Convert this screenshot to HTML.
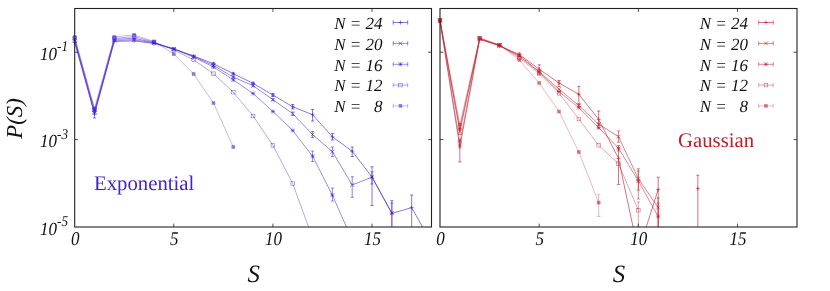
<!DOCTYPE html>
<html>
<head>
<meta charset="utf-8">
<title>P(S) distributions</title>
<style>
html, body { margin: 0; padding: 0; background: #ffffff; }
body { width: 830px; height: 291px; overflow: hidden; font-family: "Liberation Serif", serif; }
svg { display: block; will-change: transform; }
text { font-family: "Liberation Serif", serif; fill: #111111; text-rendering: geometricPrecision; }
.tk { font-size: 18px; font-style: italic; }
.sp { font-size: 14.2px; font-style: italic; }
.lg { font-size: 17px; font-style: italic; }
.ax { font-size: 24.8px; font-style: italic; }
.yl { font-size: 22.8px; font-style: italic; }
.nm { font-size: 20.75px; }
</style>
</head>
<body>
<svg width="830" height="291" viewBox="0 0 830 291">
<defs>
<clipPath id="cl"><rect x="71.7" y="8.5" width="359.8" height="218.5"/></clipPath>
<clipPath id="cr"><rect x="437.0" y="8.5" width="360.0" height="218.5"/></clipPath>
</defs>
<g clip-path="url(#cl)">
<polyline points="74.70,37.00 94.52,108.50 114.34,36.90 134.17,34.90 153.99,41.50 173.81,54.00 193.63,74.00 213.46,103.00 233.28,147.00" fill="none" stroke="#4422cc" stroke-width="0.55" stroke-opacity="0.58" stroke-linejoin="round"/>
<rect x="72.90" y="35.20" width="3.6" height="3.6" fill="#4422cc" fill-opacity="0.58" stroke="none"/>
<rect x="92.72" y="106.70" width="3.6" height="3.6" fill="#4422cc" fill-opacity="0.58" stroke="none"/>
<rect x="112.54" y="35.10" width="3.6" height="3.6" fill="#4422cc" fill-opacity="0.58" stroke="none"/>
<rect x="132.37" y="33.10" width="3.6" height="3.6" fill="#4422cc" fill-opacity="0.58" stroke="none"/>
<rect x="152.19" y="39.70" width="3.6" height="3.6" fill="#4422cc" fill-opacity="0.58" stroke="none"/>
<rect x="172.01" y="52.20" width="3.6" height="3.6" fill="#4422cc" fill-opacity="0.58" stroke="none"/>
<rect x="191.83" y="72.20" width="3.6" height="3.6" fill="#4422cc" fill-opacity="0.58" stroke="none"/>
<rect x="211.66" y="101.20" width="3.6" height="3.6" fill="#4422cc" fill-opacity="0.58" stroke="none"/>
<rect x="231.48" y="145.20" width="3.6" height="3.6" fill="#4422cc" fill-opacity="0.58" stroke="none"/>
<polyline points="74.70,38.30 94.52,110.00 114.34,38.30 134.17,36.60 153.99,42.00 173.81,50.00 193.63,59.90 213.46,73.70 233.28,92.20 253.10,116.00 272.92,145.30 292.74,183.60 312.57,238.00" fill="none" stroke="#4422cc" stroke-width="0.55" stroke-opacity="0.72" stroke-linejoin="round"/>
<rect x="72.90" y="36.50" width="3.6" height="3.6" stroke="#4422cc" stroke-width="0.55" stroke-opacity="0.72" fill="none"/>
<rect x="92.72" y="108.20" width="3.6" height="3.6" stroke="#4422cc" stroke-width="0.55" stroke-opacity="0.72" fill="none"/>
<rect x="112.54" y="36.50" width="3.6" height="3.6" stroke="#4422cc" stroke-width="0.55" stroke-opacity="0.72" fill="none"/>
<rect x="132.37" y="34.80" width="3.6" height="3.6" stroke="#4422cc" stroke-width="0.55" stroke-opacity="0.72" fill="none"/>
<rect x="152.19" y="40.20" width="3.6" height="3.6" stroke="#4422cc" stroke-width="0.55" stroke-opacity="0.72" fill="none"/>
<rect x="172.01" y="48.20" width="3.6" height="3.6" stroke="#4422cc" stroke-width="0.55" stroke-opacity="0.72" fill="none"/>
<rect x="191.83" y="58.10" width="3.6" height="3.6" stroke="#4422cc" stroke-width="0.55" stroke-opacity="0.72" fill="none"/>
<rect x="211.66" y="71.90" width="3.6" height="3.6" stroke="#4422cc" stroke-width="0.55" stroke-opacity="0.72" fill="none"/>
<rect x="231.48" y="90.40" width="3.6" height="3.6" stroke="#4422cc" stroke-width="0.55" stroke-opacity="0.72" fill="none"/>
<rect x="251.30" y="114.20" width="3.6" height="3.6" stroke="#4422cc" stroke-width="0.55" stroke-opacity="0.72" fill="none"/>
<rect x="271.12" y="143.50" width="3.6" height="3.6" stroke="#4422cc" stroke-width="0.55" stroke-opacity="0.72" fill="none"/>
<rect x="290.94" y="181.80" width="3.6" height="3.6" stroke="#4422cc" stroke-width="0.55" stroke-opacity="0.72" fill="none"/>
<polyline points="74.70,39.60 94.52,111.50 114.34,39.30 134.17,38.30 153.99,42.50 173.81,49.00 193.63,57.00 213.46,67.00 233.28,79.90 253.10,93.50 272.92,111.50 292.74,130.50 312.57,156.20 332.39,195.20 352.21,240.00" fill="none" stroke="#4422cc" stroke-width="0.6" stroke-opacity="0.87" stroke-linejoin="round"/>
<path d="M72.70 37.60L76.70 41.60M72.70 41.60L76.70 37.60M72.70 39.60H76.70M74.70 37.60V41.60" stroke="#4422cc" stroke-width="0.6" stroke-opacity="0.87" fill="none"/>
<path d="M92.52 109.50L96.52 113.50M92.52 113.50L96.52 109.50M92.52 111.50H96.52M94.52 109.50V113.50" stroke="#4422cc" stroke-width="0.6" stroke-opacity="0.87" fill="none"/>
<path d="M112.34 37.30L116.34 41.30M112.34 41.30L116.34 37.30M112.34 39.30H116.34M114.34 37.30V41.30" stroke="#4422cc" stroke-width="0.6" stroke-opacity="0.87" fill="none"/>
<path d="M132.17 36.30L136.17 40.30M132.17 40.30L136.17 36.30M132.17 38.30H136.17M134.17 36.30V40.30" stroke="#4422cc" stroke-width="0.6" stroke-opacity="0.87" fill="none"/>
<path d="M151.99 40.50L155.99 44.50M151.99 44.50L155.99 40.50M151.99 42.50H155.99M153.99 40.50V44.50" stroke="#4422cc" stroke-width="0.6" stroke-opacity="0.87" fill="none"/>
<path d="M171.81 47.00L175.81 51.00M171.81 51.00L175.81 47.00M171.81 49.00H175.81M173.81 47.00V51.00" stroke="#4422cc" stroke-width="0.6" stroke-opacity="0.87" fill="none"/>
<path d="M191.63 55.00L195.63 59.00M191.63 59.00L195.63 55.00M191.63 57.00H195.63M193.63 55.00V59.00" stroke="#4422cc" stroke-width="0.6" stroke-opacity="0.87" fill="none"/>
<path d="M211.46 65.00L215.46 69.00M211.46 69.00L215.46 65.00M211.46 67.00H215.46M213.46 65.00V69.00" stroke="#4422cc" stroke-width="0.6" stroke-opacity="0.87" fill="none"/>
<path d="M231.28 77.90L235.28 81.90M231.28 81.90L235.28 77.90M231.28 79.90H235.28M233.28 77.90V81.90" stroke="#4422cc" stroke-width="0.6" stroke-opacity="0.87" fill="none"/>
<path d="M251.10 91.50L255.10 95.50M251.10 95.50L255.10 91.50M251.10 93.50H255.10M253.10 91.50V95.50" stroke="#4422cc" stroke-width="0.6" stroke-opacity="0.87" fill="none"/>
<path d="M270.92 109.50L274.92 113.50M270.92 113.50L274.92 109.50M270.92 111.50H274.92M272.92 109.50V113.50" stroke="#4422cc" stroke-width="0.6" stroke-opacity="0.87" fill="none"/>
<path d="M290.74 128.50L294.74 132.50M290.74 132.50L294.74 128.50M290.74 130.50H294.74M292.74 128.50V132.50" stroke="#4422cc" stroke-width="0.6" stroke-opacity="0.87" fill="none"/>
<path d="M312.57 151.00V161.50M310.97 151.00H314.17M310.97 161.50H314.17" stroke="#4422cc" stroke-width="0.6" stroke-opacity="0.87" fill="none"/>
<path d="M310.57 154.20L314.57 158.20M310.57 158.20L314.57 154.20M310.57 156.20H314.57M312.57 154.20V158.20" stroke="#4422cc" stroke-width="0.6" stroke-opacity="0.87" fill="none"/>
<path d="M332.39 188.00V201.00M330.79 188.00H333.99M330.79 201.00H333.99" stroke="#4422cc" stroke-width="0.6" stroke-opacity="0.87" fill="none"/>
<path d="M330.39 193.20L334.39 197.20M330.39 197.20L334.39 193.20M330.39 195.20H334.39M332.39 193.20V197.20" stroke="#4422cc" stroke-width="0.6" stroke-opacity="0.87" fill="none"/>
<polyline points="74.70,41.00 94.52,113.00 114.34,40.40 134.17,39.70 153.99,43.00 173.81,48.90 193.63,56.50 213.46,65.40 233.28,77.10 253.10,85.70 272.92,99.70 292.74,113.70 312.57,134.50 332.39,151.70 352.21,185.00 372.03,177.10 391.86,213.20" fill="none" stroke="#4422cc" stroke-width="0.6" stroke-opacity="0.92" stroke-linejoin="round"/>
<path d="M72.70 39.00L76.70 43.00M72.70 43.00L76.70 39.00" stroke="#4422cc" stroke-width="0.6" stroke-opacity="0.92" fill="none"/>
<path d="M92.52 111.00L96.52 115.00M92.52 115.00L96.52 111.00" stroke="#4422cc" stroke-width="0.6" stroke-opacity="0.92" fill="none"/>
<path d="M112.34 38.40L116.34 42.40M112.34 42.40L116.34 38.40" stroke="#4422cc" stroke-width="0.6" stroke-opacity="0.92" fill="none"/>
<path d="M132.17 37.70L136.17 41.70M132.17 41.70L136.17 37.70" stroke="#4422cc" stroke-width="0.6" stroke-opacity="0.92" fill="none"/>
<path d="M151.99 41.00L155.99 45.00M151.99 45.00L155.99 41.00" stroke="#4422cc" stroke-width="0.6" stroke-opacity="0.92" fill="none"/>
<path d="M171.81 46.90L175.81 50.90M171.81 50.90L175.81 46.90" stroke="#4422cc" stroke-width="0.6" stroke-opacity="0.92" fill="none"/>
<path d="M191.63 54.50L195.63 58.50M191.63 58.50L195.63 54.50" stroke="#4422cc" stroke-width="0.6" stroke-opacity="0.92" fill="none"/>
<path d="M213.46 64.40V66.40M211.86 64.40H215.06M211.86 66.40H215.06" stroke="#4422cc" stroke-width="0.6" stroke-opacity="0.92" fill="none"/>
<path d="M211.46 63.40L215.46 67.40M211.46 67.40L215.46 63.40" stroke="#4422cc" stroke-width="0.6" stroke-opacity="0.92" fill="none"/>
<path d="M233.28 76.10V78.10M231.68 76.10H234.88M231.68 78.10H234.88" stroke="#4422cc" stroke-width="0.6" stroke-opacity="0.92" fill="none"/>
<path d="M231.28 75.10L235.28 79.10M231.28 79.10L235.28 75.10" stroke="#4422cc" stroke-width="0.6" stroke-opacity="0.92" fill="none"/>
<path d="M253.10 84.70V86.70M251.50 84.70H254.70M251.50 86.70H254.70" stroke="#4422cc" stroke-width="0.6" stroke-opacity="0.92" fill="none"/>
<path d="M251.10 83.70L255.10 87.70M251.10 87.70L255.10 83.70" stroke="#4422cc" stroke-width="0.6" stroke-opacity="0.92" fill="none"/>
<path d="M272.92 98.70V100.70M271.32 98.70H274.52M271.32 100.70H274.52" stroke="#4422cc" stroke-width="0.6" stroke-opacity="0.92" fill="none"/>
<path d="M270.92 97.70L274.92 101.70M270.92 101.70L274.92 97.70" stroke="#4422cc" stroke-width="0.6" stroke-opacity="0.92" fill="none"/>
<path d="M292.74 112.00V115.50M291.14 112.00H294.34M291.14 115.50H294.34" stroke="#4422cc" stroke-width="0.6" stroke-opacity="0.92" fill="none"/>
<path d="M290.74 111.70L294.74 115.70M290.74 115.70L294.74 111.70" stroke="#4422cc" stroke-width="0.6" stroke-opacity="0.92" fill="none"/>
<path d="M312.57 131.50V137.50M310.97 131.50H314.17M310.97 137.50H314.17" stroke="#4422cc" stroke-width="0.6" stroke-opacity="0.92" fill="none"/>
<path d="M310.57 132.50L314.57 136.50M310.57 136.50L314.57 132.50" stroke="#4422cc" stroke-width="0.6" stroke-opacity="0.92" fill="none"/>
<path d="M332.39 147.00V156.50M330.79 147.00H333.99M330.79 156.50H333.99" stroke="#4422cc" stroke-width="0.6" stroke-opacity="0.92" fill="none"/>
<path d="M330.39 149.70L334.39 153.70M330.39 153.70L334.39 149.70" stroke="#4422cc" stroke-width="0.6" stroke-opacity="0.92" fill="none"/>
<path d="M352.21 176.70V197.30M350.61 176.70H353.81M350.61 197.30H353.81" stroke="#4422cc" stroke-width="0.6" stroke-opacity="0.92" fill="none"/>
<path d="M350.21 183.00L354.21 187.00M350.21 187.00L354.21 183.00" stroke="#4422cc" stroke-width="0.6" stroke-opacity="0.92" fill="none"/>
<path d="M372.03 171.80V184.00M370.43 171.80H373.63M370.43 184.00H373.63" stroke="#4422cc" stroke-width="0.6" stroke-opacity="0.92" fill="none"/>
<path d="M370.03 175.10L374.03 179.10M370.03 179.10L374.03 175.10" stroke="#4422cc" stroke-width="0.6" stroke-opacity="0.92" fill="none"/>
<path d="M391.86 203.00V240.00M390.26 203.00H393.46M390.26 240.00H393.46" stroke="#4422cc" stroke-width="0.6" stroke-opacity="0.92" fill="none"/>
<path d="M389.86 211.20L393.86 215.20M389.86 215.20L393.86 211.20" stroke="#4422cc" stroke-width="0.6" stroke-opacity="0.92" fill="none"/>
<polyline points="74.70,42.30 94.52,114.00 114.34,41.40 134.17,40.90 153.99,43.50 173.81,48.80 193.63,56.00 213.46,63.70 233.28,73.70 253.10,83.30 272.92,95.00 292.74,106.80 312.57,114.70 332.39,136.80 352.21,151.20 372.03,177.10 391.86,213.40 411.68,207.60 431.50,243.00" fill="none" stroke="#4422cc" stroke-width="0.64" stroke-opacity="0.97" stroke-linejoin="round"/>
<path d="M72.70 42.30H76.70M74.70 40.30V44.30" stroke="#4422cc" stroke-width="0.64" stroke-opacity="0.97" fill="none"/>
<path d="M94.52 110.50V118.00M92.92 110.50H96.12M92.92 118.00H96.12" stroke="#4422cc" stroke-width="0.64" stroke-opacity="0.97" fill="none"/>
<path d="M92.52 114.00H96.52M94.52 112.00V116.00" stroke="#4422cc" stroke-width="0.64" stroke-opacity="0.97" fill="none"/>
<path d="M112.34 41.40H116.34M114.34 39.40V43.40" stroke="#4422cc" stroke-width="0.64" stroke-opacity="0.97" fill="none"/>
<path d="M132.17 40.90H136.17M134.17 38.90V42.90" stroke="#4422cc" stroke-width="0.64" stroke-opacity="0.97" fill="none"/>
<path d="M151.99 43.50H155.99M153.99 41.50V45.50" stroke="#4422cc" stroke-width="0.64" stroke-opacity="0.97" fill="none"/>
<path d="M171.81 48.80H175.81M173.81 46.80V50.80" stroke="#4422cc" stroke-width="0.64" stroke-opacity="0.97" fill="none"/>
<path d="M191.63 56.00H195.63M193.63 54.00V58.00" stroke="#4422cc" stroke-width="0.64" stroke-opacity="0.97" fill="none"/>
<path d="M213.46 62.70V64.70M211.86 62.70H215.06M211.86 64.70H215.06" stroke="#4422cc" stroke-width="0.64" stroke-opacity="0.97" fill="none"/>
<path d="M211.46 63.70H215.46M213.46 61.70V65.70" stroke="#4422cc" stroke-width="0.64" stroke-opacity="0.97" fill="none"/>
<path d="M233.28 72.70V74.70M231.68 72.70H234.88M231.68 74.70H234.88" stroke="#4422cc" stroke-width="0.64" stroke-opacity="0.97" fill="none"/>
<path d="M231.28 73.70H235.28M233.28 71.70V75.70" stroke="#4422cc" stroke-width="0.64" stroke-opacity="0.97" fill="none"/>
<path d="M253.10 82.30V84.30M251.50 82.30H254.70M251.50 84.30H254.70" stroke="#4422cc" stroke-width="0.64" stroke-opacity="0.97" fill="none"/>
<path d="M251.10 83.30H255.10M253.10 81.30V85.30" stroke="#4422cc" stroke-width="0.64" stroke-opacity="0.97" fill="none"/>
<path d="M272.92 93.50V96.50M271.32 93.50H274.52M271.32 96.50H274.52" stroke="#4422cc" stroke-width="0.64" stroke-opacity="0.97" fill="none"/>
<path d="M270.92 95.00H274.92M272.92 93.00V97.00" stroke="#4422cc" stroke-width="0.64" stroke-opacity="0.97" fill="none"/>
<path d="M292.74 104.50V109.00M291.14 104.50H294.34M291.14 109.00H294.34" stroke="#4422cc" stroke-width="0.64" stroke-opacity="0.97" fill="none"/>
<path d="M290.74 106.80H294.74M292.74 104.80V108.80" stroke="#4422cc" stroke-width="0.64" stroke-opacity="0.97" fill="none"/>
<path d="M312.57 109.50V121.00M310.97 109.50H314.17M310.97 121.00H314.17" stroke="#4422cc" stroke-width="0.64" stroke-opacity="0.97" fill="none"/>
<path d="M310.57 114.70H314.57M312.57 112.70V116.70" stroke="#4422cc" stroke-width="0.64" stroke-opacity="0.97" fill="none"/>
<path d="M332.39 133.50V140.00M330.79 133.50H333.99M330.79 140.00H333.99" stroke="#4422cc" stroke-width="0.64" stroke-opacity="0.97" fill="none"/>
<path d="M330.39 136.80H334.39M332.39 134.80V138.80" stroke="#4422cc" stroke-width="0.64" stroke-opacity="0.97" fill="none"/>
<path d="M352.21 147.00V156.50M350.61 147.00H353.81M350.61 156.50H353.81" stroke="#4422cc" stroke-width="0.64" stroke-opacity="0.97" fill="none"/>
<path d="M350.21 151.20H354.21M352.21 149.20V153.20" stroke="#4422cc" stroke-width="0.64" stroke-opacity="0.97" fill="none"/>
<path d="M372.03 166.80V205.50M370.43 166.80H373.63M370.43 205.50H373.63" stroke="#4422cc" stroke-width="0.64" stroke-opacity="0.97" fill="none"/>
<path d="M370.03 177.10H374.03M372.03 175.10V179.10" stroke="#4422cc" stroke-width="0.64" stroke-opacity="0.97" fill="none"/>
<path d="M391.86 200.70V240.00M390.26 200.70H393.46M390.26 240.00H393.46" stroke="#4422cc" stroke-width="0.64" stroke-opacity="0.97" fill="none"/>
<path d="M389.86 213.40H393.86M391.86 211.40V215.40" stroke="#4422cc" stroke-width="0.64" stroke-opacity="0.97" fill="none"/>
<path d="M411.68 195.00V240.00M410.08 195.00H413.28M410.08 240.00H413.28" stroke="#4422cc" stroke-width="0.64" stroke-opacity="0.97" fill="none"/>
<path d="M409.68 207.60H413.68M411.68 205.60V209.60" stroke="#4422cc" stroke-width="0.64" stroke-opacity="0.97" fill="none"/>
<path d="M431.50 242.00V244.00M429.90 242.00H433.10M429.90 244.00H433.10" stroke="#4422cc" stroke-width="0.64" stroke-opacity="0.97" fill="none"/>
</g>
<g clip-path="url(#cr)">
<polyline points="440.00,20.00 459.83,124.50 479.67,37.70 499.50,45.00 519.33,60.00 539.17,83.00 559.00,111.50 578.83,152.00 598.67,202.60" fill="none" stroke="#be1e2d" stroke-width="0.55" stroke-opacity="0.58" stroke-linejoin="round"/>
<rect x="438.20" y="18.20" width="3.6" height="3.6" fill="#be1e2d" fill-opacity="0.58" stroke="none"/>
<rect x="458.03" y="122.70" width="3.6" height="3.6" fill="#be1e2d" fill-opacity="0.58" stroke="none"/>
<rect x="477.87" y="35.90" width="3.6" height="3.6" fill="#be1e2d" fill-opacity="0.58" stroke="none"/>
<rect x="497.70" y="43.20" width="3.6" height="3.6" fill="#be1e2d" fill-opacity="0.58" stroke="none"/>
<rect x="517.53" y="58.20" width="3.6" height="3.6" fill="#be1e2d" fill-opacity="0.58" stroke="none"/>
<rect x="537.37" y="81.20" width="3.6" height="3.6" fill="#be1e2d" fill-opacity="0.58" stroke="none"/>
<rect x="557.20" y="109.70" width="3.6" height="3.6" fill="#be1e2d" fill-opacity="0.58" stroke="none"/>
<rect x="577.03" y="150.20" width="3.6" height="3.6" fill="#be1e2d" fill-opacity="0.58" stroke="none"/>
<path d="M598.67 194.70V216.40M597.07 194.70H600.27M597.07 216.40H600.27" stroke="#be1e2d" stroke-width="0.55" stroke-opacity="0.58" fill="none"/>
<rect x="596.87" y="200.80" width="3.6" height="3.6" fill="#be1e2d" fill-opacity="0.58" stroke="none"/>
<polyline points="440.00,20.30 459.83,142.70 479.67,38.20 499.50,45.20 519.33,58.00 539.17,73.50 559.00,93.30 578.83,119.00 598.67,145.30 618.50,163.70 638.33,210.20" fill="none" stroke="#be1e2d" stroke-width="0.55" stroke-opacity="0.72" stroke-linejoin="round"/>
<rect x="438.20" y="18.50" width="3.6" height="3.6" stroke="#be1e2d" stroke-width="0.55" stroke-opacity="0.72" fill="none"/>
<path d="M459.83 140.50V145.50M458.23 140.50H461.43M458.23 145.50H461.43" stroke="#be1e2d" stroke-width="0.55" stroke-opacity="0.72" fill="none"/>
<rect x="458.03" y="140.90" width="3.6" height="3.6" stroke="#be1e2d" stroke-width="0.55" stroke-opacity="0.72" fill="none"/>
<rect x="477.87" y="36.40" width="3.6" height="3.6" stroke="#be1e2d" stroke-width="0.55" stroke-opacity="0.72" fill="none"/>
<rect x="497.70" y="43.40" width="3.6" height="3.6" stroke="#be1e2d" stroke-width="0.55" stroke-opacity="0.72" fill="none"/>
<rect x="517.53" y="56.20" width="3.6" height="3.6" stroke="#be1e2d" stroke-width="0.55" stroke-opacity="0.72" fill="none"/>
<rect x="537.37" y="71.70" width="3.6" height="3.6" stroke="#be1e2d" stroke-width="0.55" stroke-opacity="0.72" fill="none"/>
<rect x="557.20" y="91.50" width="3.6" height="3.6" stroke="#be1e2d" stroke-width="0.55" stroke-opacity="0.72" fill="none"/>
<rect x="577.03" y="117.20" width="3.6" height="3.6" stroke="#be1e2d" stroke-width="0.55" stroke-opacity="0.72" fill="none"/>
<rect x="596.87" y="143.50" width="3.6" height="3.6" stroke="#be1e2d" stroke-width="0.55" stroke-opacity="0.72" fill="none"/>
<rect x="616.70" y="161.90" width="3.6" height="3.6" stroke="#be1e2d" stroke-width="0.55" stroke-opacity="0.72" fill="none"/>
<path d="M638.33 202.00V240.00M636.73 202.00H639.93M636.73 240.00H639.93" stroke="#be1e2d" stroke-width="0.55" stroke-opacity="0.72" fill="none"/>
<rect x="636.53" y="208.40" width="3.6" height="3.6" stroke="#be1e2d" stroke-width="0.55" stroke-opacity="0.72" fill="none"/>
<polyline points="440.00,20.60 459.83,128.50 479.67,38.60 499.50,45.40 519.33,56.50 539.17,72.00 559.00,91.60 578.83,107.70 598.67,127.70 618.50,148.20 638.33,181.00 658.17,216.40" fill="none" stroke="#be1e2d" stroke-width="0.6" stroke-opacity="0.87" stroke-linejoin="round"/>
<path d="M438.00 18.60L442.00 22.60M438.00 22.60L442.00 18.60M438.00 20.60H442.00M440.00 18.60V22.60" stroke="#be1e2d" stroke-width="0.6" stroke-opacity="0.87" fill="none"/>
<path d="M457.83 126.50L461.83 130.50M457.83 130.50L461.83 126.50M457.83 128.50H461.83M459.83 126.50V130.50" stroke="#be1e2d" stroke-width="0.6" stroke-opacity="0.87" fill="none"/>
<path d="M477.67 36.60L481.67 40.60M477.67 40.60L481.67 36.60M477.67 38.60H481.67M479.67 36.60V40.60" stroke="#be1e2d" stroke-width="0.6" stroke-opacity="0.87" fill="none"/>
<path d="M497.50 43.40L501.50 47.40M497.50 47.40L501.50 43.40M497.50 45.40H501.50M499.50 43.40V47.40" stroke="#be1e2d" stroke-width="0.6" stroke-opacity="0.87" fill="none"/>
<path d="M517.33 54.50L521.33 58.50M517.33 58.50L521.33 54.50M517.33 56.50H521.33M519.33 54.50V58.50" stroke="#be1e2d" stroke-width="0.6" stroke-opacity="0.87" fill="none"/>
<path d="M537.17 70.00L541.17 74.00M537.17 74.00L541.17 70.00M537.17 72.00H541.17M539.17 70.00V74.00" stroke="#be1e2d" stroke-width="0.6" stroke-opacity="0.87" fill="none"/>
<path d="M557.00 89.60L561.00 93.60M557.00 93.60L561.00 89.60M557.00 91.60H561.00M559.00 89.60V93.60" stroke="#be1e2d" stroke-width="0.6" stroke-opacity="0.87" fill="none"/>
<path d="M576.83 105.70L580.83 109.70M576.83 109.70L580.83 105.70M576.83 107.70H580.83M578.83 105.70V109.70" stroke="#be1e2d" stroke-width="0.6" stroke-opacity="0.87" fill="none"/>
<path d="M596.67 125.70L600.67 129.70M596.67 129.70L600.67 125.70M596.67 127.70H600.67M598.67 125.70V129.70" stroke="#be1e2d" stroke-width="0.6" stroke-opacity="0.87" fill="none"/>
<path d="M618.50 145.50V151.00M616.90 145.50H620.10M616.90 151.00H620.10" stroke="#be1e2d" stroke-width="0.6" stroke-opacity="0.87" fill="none"/>
<path d="M616.50 146.20L620.50 150.20M616.50 150.20L620.50 146.20M616.50 148.20H620.50M618.50 146.20V150.20" stroke="#be1e2d" stroke-width="0.6" stroke-opacity="0.87" fill="none"/>
<path d="M638.33 171.00V199.00M636.73 171.00H639.93M636.73 199.00H639.93" stroke="#be1e2d" stroke-width="0.6" stroke-opacity="0.87" fill="none"/>
<path d="M636.33 179.00L640.33 183.00M636.33 183.00L640.33 179.00M636.33 181.00H640.33M638.33 179.00V183.00" stroke="#be1e2d" stroke-width="0.6" stroke-opacity="0.87" fill="none"/>
<path d="M658.17 203.00V240.00M656.57 203.00H659.77M656.57 240.00H659.77" stroke="#be1e2d" stroke-width="0.6" stroke-opacity="0.87" fill="none"/>
<path d="M656.17 214.40L660.17 218.40M656.17 218.40L660.17 214.40M656.17 216.40H660.17M658.17 214.40V218.40" stroke="#be1e2d" stroke-width="0.6" stroke-opacity="0.87" fill="none"/>
<polyline points="440.00,20.80 459.83,131.50 479.67,39.00 499.50,45.60 519.33,55.50 539.17,71.50 559.00,89.20 578.83,105.50 598.67,124.20 618.50,136.70 638.33,178.70 658.17,207.50" fill="none" stroke="#be1e2d" stroke-width="0.6" stroke-opacity="0.92" stroke-linejoin="round"/>
<path d="M438.00 18.80L442.00 22.80M438.00 22.80L442.00 18.80" stroke="#be1e2d" stroke-width="0.6" stroke-opacity="0.92" fill="none"/>
<path d="M459.83 129.00V134.50M458.23 129.00H461.43M458.23 134.50H461.43" stroke="#be1e2d" stroke-width="0.6" stroke-opacity="0.92" fill="none"/>
<path d="M457.83 129.50L461.83 133.50M457.83 133.50L461.83 129.50" stroke="#be1e2d" stroke-width="0.6" stroke-opacity="0.92" fill="none"/>
<path d="M477.67 37.00L481.67 41.00M477.67 41.00L481.67 37.00" stroke="#be1e2d" stroke-width="0.6" stroke-opacity="0.92" fill="none"/>
<path d="M497.50 43.60L501.50 47.60M497.50 47.60L501.50 43.60" stroke="#be1e2d" stroke-width="0.6" stroke-opacity="0.92" fill="none"/>
<path d="M517.33 53.50L521.33 57.50M517.33 57.50L521.33 53.50" stroke="#be1e2d" stroke-width="0.6" stroke-opacity="0.92" fill="none"/>
<path d="M537.17 69.50L541.17 73.50M537.17 73.50L541.17 69.50" stroke="#be1e2d" stroke-width="0.6" stroke-opacity="0.92" fill="none"/>
<path d="M557.00 87.20L561.00 91.20M557.00 91.20L561.00 87.20" stroke="#be1e2d" stroke-width="0.6" stroke-opacity="0.92" fill="none"/>
<path d="M578.83 104.50V106.50M577.23 104.50H580.43M577.23 106.50H580.43" stroke="#be1e2d" stroke-width="0.6" stroke-opacity="0.92" fill="none"/>
<path d="M576.83 103.50L580.83 107.50M576.83 107.50L580.83 103.50" stroke="#be1e2d" stroke-width="0.6" stroke-opacity="0.92" fill="none"/>
<path d="M598.67 123.20V125.20M597.07 123.20H600.27M597.07 125.20H600.27" stroke="#be1e2d" stroke-width="0.6" stroke-opacity="0.92" fill="none"/>
<path d="M596.67 122.20L600.67 126.20M596.67 126.20L600.67 122.20" stroke="#be1e2d" stroke-width="0.6" stroke-opacity="0.92" fill="none"/>
<path d="M618.50 131.00V142.20M616.90 131.00H620.10M616.90 142.20H620.10" stroke="#be1e2d" stroke-width="0.6" stroke-opacity="0.92" fill="none"/>
<path d="M616.50 134.70L620.50 138.70M616.50 138.70L620.50 134.70" stroke="#be1e2d" stroke-width="0.6" stroke-opacity="0.92" fill="none"/>
<path d="M638.33 168.80V190.20M636.73 168.80H639.93M636.73 190.20H639.93" stroke="#be1e2d" stroke-width="0.6" stroke-opacity="0.92" fill="none"/>
<path d="M636.33 176.70L640.33 180.70M636.33 180.70L640.33 176.70" stroke="#be1e2d" stroke-width="0.6" stroke-opacity="0.92" fill="none"/>
<path d="M658.17 197.80V240.00M656.57 197.80H659.77M656.57 240.00H659.77" stroke="#be1e2d" stroke-width="0.6" stroke-opacity="0.92" fill="none"/>
<path d="M656.17 205.50L660.17 209.50M656.17 209.50L660.17 205.50" stroke="#be1e2d" stroke-width="0.6" stroke-opacity="0.92" fill="none"/>
<polyline points="440.00,21.00 459.83,147.00 479.67,39.40 499.50,45.80 519.33,54.50 539.17,69.20 559.00,83.00 578.83,94.30 598.67,119.40 618.50,158.50 638.33,252.00 658.17,189.60" fill="none" stroke="#be1e2d" stroke-width="0.64" stroke-opacity="0.97" stroke-linejoin="round"/>
<path d="M438.00 21.00H442.00M440.00 19.00V23.00" stroke="#be1e2d" stroke-width="0.64" stroke-opacity="0.97" fill="none"/>
<path d="M459.83 139.00V162.00M458.23 139.00H461.43M458.23 162.00H461.43" stroke="#be1e2d" stroke-width="0.64" stroke-opacity="0.97" fill="none"/>
<path d="M457.83 147.00H461.83M459.83 145.00V149.00" stroke="#be1e2d" stroke-width="0.64" stroke-opacity="0.97" fill="none"/>
<path d="M477.67 39.40H481.67M479.67 37.40V41.40" stroke="#be1e2d" stroke-width="0.64" stroke-opacity="0.97" fill="none"/>
<path d="M497.50 45.80H501.50M499.50 43.80V47.80" stroke="#be1e2d" stroke-width="0.64" stroke-opacity="0.97" fill="none"/>
<path d="M519.33 53.00V56.00M517.73 53.00H520.93M517.73 56.00H520.93" stroke="#be1e2d" stroke-width="0.64" stroke-opacity="0.97" fill="none"/>
<path d="M517.33 54.50H521.33M519.33 52.50V56.50" stroke="#be1e2d" stroke-width="0.64" stroke-opacity="0.97" fill="none"/>
<path d="M539.17 64.80V74.40M537.57 64.80H540.77M537.57 74.40H540.77" stroke="#be1e2d" stroke-width="0.64" stroke-opacity="0.97" fill="none"/>
<path d="M537.17 69.20H541.17M539.17 67.20V71.20" stroke="#be1e2d" stroke-width="0.64" stroke-opacity="0.97" fill="none"/>
<path d="M559.00 80.50V86.50M557.40 80.50H560.60M557.40 86.50H560.60" stroke="#be1e2d" stroke-width="0.64" stroke-opacity="0.97" fill="none"/>
<path d="M557.00 83.00H561.00M559.00 81.00V85.00" stroke="#be1e2d" stroke-width="0.64" stroke-opacity="0.97" fill="none"/>
<path d="M578.83 86.40V103.60M577.23 86.40H580.43M577.23 103.60H580.43" stroke="#be1e2d" stroke-width="0.64" stroke-opacity="0.97" fill="none"/>
<path d="M576.83 94.30H580.83M578.83 92.30V96.30" stroke="#be1e2d" stroke-width="0.64" stroke-opacity="0.97" fill="none"/>
<path d="M598.67 111.00V128.00M597.07 111.00H600.27M597.07 128.00H600.27" stroke="#be1e2d" stroke-width="0.64" stroke-opacity="0.97" fill="none"/>
<path d="M596.67 119.40H600.67M598.67 117.40V121.40" stroke="#be1e2d" stroke-width="0.64" stroke-opacity="0.97" fill="none"/>
<path d="M618.50 148.00V184.40M616.90 148.00H620.10M616.90 184.40H620.10" stroke="#be1e2d" stroke-width="0.64" stroke-opacity="0.97" fill="none"/>
<path d="M616.50 158.50H620.50M618.50 156.50V160.50" stroke="#be1e2d" stroke-width="0.64" stroke-opacity="0.97" fill="none"/>
<path d="M638.33 251.00V253.00M636.73 251.00H639.93M636.73 253.00H639.93" stroke="#be1e2d" stroke-width="0.64" stroke-opacity="0.97" fill="none"/>
<path d="M658.17 177.20V240.00M656.57 177.20H659.77M656.57 240.00H659.77" stroke="#be1e2d" stroke-width="0.64" stroke-opacity="0.97" fill="none"/>
<path d="M656.17 189.60H660.17M658.17 187.60V191.60" stroke="#be1e2d" stroke-width="0.64" stroke-opacity="0.97" fill="none"/>
<path d="M697.83 175.20V240.00M696.23 175.20H699.43M696.23 240.00H699.43" stroke="#be1e2d" stroke-width="0.64" stroke-opacity="0.97" fill="none"/>
<path d="M695.83 188.60H699.83M697.83 186.60V190.60" stroke="#be1e2d" stroke-width="0.64" stroke-opacity="0.97" fill="none"/>
</g>
<rect x="74.7" y="8.5" width="356.8" height="218.5" fill="none" stroke="#222222" stroke-width="1.1"/>
<path d="M173.81 227.0v-3.4M173.81 8.5v3.4M272.92 227.0v-3.4M272.92 8.5v3.4M372.03 227.0v-3.4M372.03 8.5v3.4M74.7 52.20h3.4M431.5 52.20h-3.4M74.7 139.60h3.4M431.5 139.60h-3.4" stroke="#222222" stroke-width="0.8" fill="none"/>
<rect x="440.0" y="8.5" width="357.0" height="218.5" fill="none" stroke="#222222" stroke-width="1.1"/>
<path d="M539.17 227.0v-3.4M539.17 8.5v3.4M638.33 227.0v-3.4M638.33 8.5v3.4M737.50 227.0v-3.4M737.50 8.5v3.4M440.0 52.20h3.4M797.0 52.20h-3.4M440.0 139.60h3.4M797.0 139.60h-3.4" stroke="#222222" stroke-width="0.8" fill="none"/>
<text transform="translate(57.0 60.00) scale(0.945 1.03)" text-anchor="end" class="tk">10</text>
<text transform="translate(57.1 51.20) scale(0.93 1.05)" class="sp">-1</text>
<text transform="translate(57.0 147.40) scale(0.945 1.03)" text-anchor="end" class="tk">10</text>
<text transform="translate(57.1 138.60) scale(0.93 1.05)" class="sp">-3</text>
<text transform="translate(57.0 234.80) scale(0.945 1.03)" text-anchor="end" class="tk">10</text>
<text transform="translate(57.1 226.00) scale(0.93 1.05)" class="sp">-5</text>
<text transform="translate(75.20 245.2) scale(0.945 1.08)" text-anchor="middle" class="tk">0</text>
<text transform="translate(174.31 245.2) scale(0.945 1.08)" text-anchor="middle" class="tk">5</text>
<text transform="translate(273.42 245.2) scale(0.945 1.08)" text-anchor="middle" class="tk">10</text>
<text transform="translate(372.53 245.2) scale(0.945 1.08)" text-anchor="middle" class="tk">15</text>
<text x="253.60" y="282.0" text-anchor="middle" class="ax">S</text>
<text transform="translate(440.50 245.2) scale(0.945 1.08)" text-anchor="middle" class="tk">0</text>
<text transform="translate(539.67 245.2) scale(0.945 1.08)" text-anchor="middle" class="tk">5</text>
<text transform="translate(638.83 245.2) scale(0.945 1.08)" text-anchor="middle" class="tk">10</text>
<text transform="translate(738.00 245.2) scale(0.945 1.08)" text-anchor="middle" class="tk">15</text>
<text x="619.00" y="282.0" text-anchor="middle" class="ax">S</text>
<text transform="translate(22.0 118.5) rotate(-90)" text-anchor="middle" class="yl">P(S)</text>
<text x="382.50" y="28.80" text-anchor="end" class="lg" xml:space="preserve">N = 24</text>
<path d="M393.20 22.5H407.70M393.20 20.3V24.7M407.70 20.3V24.7" stroke="#4422cc" stroke-width="0.64" stroke-opacity="0.97" fill="none"/>
<path d="M398.45 22.50H402.45M400.45 20.50V24.50" stroke="#4422cc" stroke-width="0.64" stroke-opacity="0.97" fill="none"/>
<text x="382.50" y="49.70" text-anchor="end" class="lg" xml:space="preserve">N = 20</text>
<path d="M393.20 43.4H407.70M393.20 41.199999999999996V45.6M407.70 41.199999999999996V45.6" stroke="#4422cc" stroke-width="0.6" stroke-opacity="0.92" fill="none"/>
<path d="M398.45 41.40L402.45 45.40M398.45 45.40L402.45 41.40" stroke="#4422cc" stroke-width="0.6" stroke-opacity="0.92" fill="none"/>
<text x="382.50" y="70.60" text-anchor="end" class="lg" xml:space="preserve">N = 16</text>
<path d="M393.20 64.3H407.70M393.20 62.099999999999994V66.5M407.70 62.099999999999994V66.5" stroke="#4422cc" stroke-width="0.6" stroke-opacity="0.87" fill="none"/>
<path d="M398.45 62.30L402.45 66.30M398.45 66.30L402.45 62.30M398.45 64.30H402.45M400.45 62.30V66.30" stroke="#4422cc" stroke-width="0.6" stroke-opacity="0.87" fill="none"/>
<text x="382.50" y="91.40" text-anchor="end" class="lg" xml:space="preserve">N = 12</text>
<path d="M393.20 85.1H407.70M393.20 82.89999999999999V87.3M407.70 82.89999999999999V87.3" stroke="#4422cc" stroke-width="0.55" stroke-opacity="0.72" fill="none"/>
<rect x="398.65" y="83.30" width="3.6" height="3.6" stroke="#4422cc" stroke-width="0.55" stroke-opacity="0.72" fill="none"/>
<text x="382.50" y="112.20" text-anchor="end" class="lg" xml:space="preserve">N =   8</text>
<path d="M393.20 105.9H407.70M393.20 103.7V108.10000000000001M407.70 103.7V108.10000000000001" stroke="#4422cc" stroke-width="0.55" stroke-opacity="0.58" fill="none"/>
<rect x="398.65" y="104.10" width="3.6" height="3.6" fill="#4422cc" fill-opacity="0.58" stroke="none"/>
<text x="748.00" y="28.80" text-anchor="end" class="lg" xml:space="preserve">N = 24</text>
<path d="M758.70 22.5H773.20M758.70 20.3V24.7M773.20 20.3V24.7" stroke="#be1e2d" stroke-width="0.64" stroke-opacity="0.97" fill="none"/>
<path d="M763.95 22.50H767.95M765.95 20.50V24.50" stroke="#be1e2d" stroke-width="0.64" stroke-opacity="0.97" fill="none"/>
<text x="748.00" y="49.70" text-anchor="end" class="lg" xml:space="preserve">N = 20</text>
<path d="M758.70 43.4H773.20M758.70 41.199999999999996V45.6M773.20 41.199999999999996V45.6" stroke="#be1e2d" stroke-width="0.6" stroke-opacity="0.92" fill="none"/>
<path d="M763.95 41.40L767.95 45.40M763.95 45.40L767.95 41.40" stroke="#be1e2d" stroke-width="0.6" stroke-opacity="0.92" fill="none"/>
<text x="748.00" y="70.60" text-anchor="end" class="lg" xml:space="preserve">N = 16</text>
<path d="M758.70 64.3H773.20M758.70 62.099999999999994V66.5M773.20 62.099999999999994V66.5" stroke="#be1e2d" stroke-width="0.6" stroke-opacity="0.87" fill="none"/>
<path d="M763.95 62.30L767.95 66.30M763.95 66.30L767.95 62.30M763.95 64.30H767.95M765.95 62.30V66.30" stroke="#be1e2d" stroke-width="0.6" stroke-opacity="0.87" fill="none"/>
<text x="748.00" y="91.40" text-anchor="end" class="lg" xml:space="preserve">N = 12</text>
<path d="M758.70 85.1H773.20M758.70 82.89999999999999V87.3M773.20 82.89999999999999V87.3" stroke="#be1e2d" stroke-width="0.55" stroke-opacity="0.72" fill="none"/>
<rect x="764.15" y="83.30" width="3.6" height="3.6" stroke="#be1e2d" stroke-width="0.55" stroke-opacity="0.72" fill="none"/>
<text x="748.00" y="112.20" text-anchor="end" class="lg" xml:space="preserve">N =   8</text>
<path d="M758.70 105.9H773.20M758.70 103.7V108.10000000000001M773.20 103.7V108.10000000000001" stroke="#be1e2d" stroke-width="0.55" stroke-opacity="0.58" fill="none"/>
<rect x="764.15" y="104.10" width="3.6" height="3.6" fill="#be1e2d" fill-opacity="0.58" stroke="none"/>
<text x="94" y="190.2" class="nm" style="fill:#4422cc">Exponential</text>
<text x="678" y="146.8" class="nm" style="fill:#be1e2d">Gaussian</text>
</svg>
</body>
</html>
